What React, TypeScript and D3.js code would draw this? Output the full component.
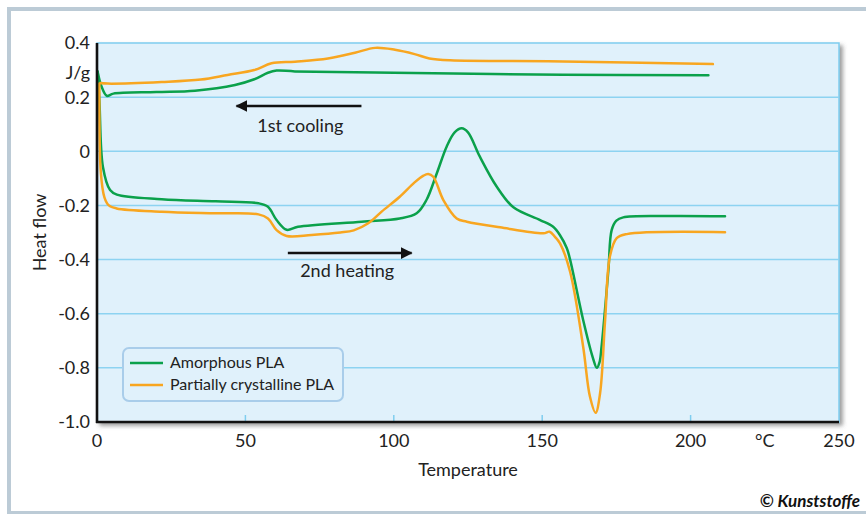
import React from "react";
import * as d3 from "d3";

// DSC curves of PLA: [temperature °C, heat flow J/g]
const coolingAmorphous: [number, number][] = [
  [0.2, 0.295], [1.5, 0.24], [3.3, 0.205], [5.5, 0.213], [20, 0.219], [33, 0.224],
  [46.5, 0.245], [53, 0.266], [57.6, 0.29], [60.5, 0.298], [66.7, 0.295],
  [100, 0.29], [157, 0.283], [206, 0.281],
];
const coolingCrystalline: [number, number][] = [
  [0.8, 0.252], [3.7, 0.25], [21.8, 0.256], [35, 0.265], [44, 0.282], [53, 0.3],
  [58.8, 0.325], [66.7, 0.331], [77.8, 0.343], [86.9, 0.364], [93.7, 0.382],
  [100.4, 0.375], [107, 0.359], [112, 0.343], [119, 0.336], [157, 0.332], [207.5, 0.322],
];
const heatingAmorphous: [number, number][] = [
  [0.2, 0.295], [0.8, 0.19], [2, -0.058], [4.4, -0.143], [6.7, -0.16], [21.8, -0.177],
  [40, -0.185], [54.4, -0.192], [57.6, -0.205], [60.5, -0.254], [63.9, -0.29],
  [67.7, -0.279], [89.2, -0.26], [102, -0.248], [107.7, -0.229], [111, -0.18],
  [114.5, -0.081], [117.8, 0.017], [120.5, 0.07], [122.9, 0.085], [125, 0.07],
  [129, -0.02], [134.7, -0.131], [140.3, -0.207], [149.3, -0.254], [153.7, -0.279],
  [156, -0.31], [158.3, -0.358], [159.4, -0.4], [163.8, -0.623], [167, -0.76],
  [168.4, -0.8], [169.3, -0.78], [170, -0.722], [172.3, -0.439], [173.4, -0.291],
  [175, -0.256], [177.3, -0.244], [192, -0.239], [211.6, -0.24],
];
const heatingCrystalline: [number, number][] = [
  [0.8, 0.25], [1.3, -0.08], [2.5, -0.17], [4, -0.2], [6.6, -0.211], [21.8, -0.223],
  [40, -0.229], [54.4, -0.233], [57.6, -0.248], [60.5, -0.291], [63.9, -0.313],
  [72.3, -0.309], [82, -0.3], [86.5, -0.292], [91.4, -0.266], [96, -0.222],
  [102, -0.168], [107, -0.115], [110, -0.09], [111.6, -0.084], [113.3, -0.094],
  [116.7, -0.18], [121.2, -0.248], [124.6, -0.26], [135.8, -0.281], [150.4, -0.303],
  [152.5, -0.297], [154.3, -0.316], [156, -0.34], [159.4, -0.445], [163.8, -0.722],
  [166.1, -0.907], [168, -0.966], [169.5, -0.894], [171.2, -0.623], [172.8, -0.389],
  [175.1, -0.321], [178.5, -0.306], [211.6, -0.299],
];

const seriesNames = ["Amorphous PLA", "Partially crystalline PLA"];
const seriesColors = ["#0ba14b", "#f8a620"];

const xTicks = [0, 50, 100, 150, 200, 250];
const yTicks = [0.4, 0.2, 0, -0.2, -0.4, -0.6, -0.8, -1.0];
const yTickLabels = ["0.4", "0.2", "0", "-0.2", "-0.4", "-0.6", "-0.8", "-1.0"];

const W = 866;
const H = 514;
const plot = { left: 97, right: 839, top: 43, bottom: 422 };
const font = "Lato, 'Open Sans', sans-serif";

export default function App() {
  const x = d3.scaleLinear().domain([0, 250]).range([plot.left, plot.right]);
  const y = d3.scaleLinear().domain([-1.0, 0.4]).range([plot.bottom, plot.top]);

  const line = d3
    .line<[number, number]>()
    .x((d) => x(d[0]))
    .y((d) => y(d[1]))
    .curve(d3.curveCatmullRom.alpha(0.5));

  const curves = [
    { data: coolingAmorphous, color: seriesColors[0] },
    { data: coolingCrystalline, color: seriesColors[1] },
    { data: heatingAmorphous, color: seriesColors[0] },
    { data: heatingCrystalline, color: seriesColors[1] },
  ];

  return (
    <svg width={W} height={H} style={{ position: "absolute", left: 0, top: 0 }}>
      <defs>
        <filter id="shadow" x="-5%" y="-5%" width="115%" height="115%">
          <feDropShadow dx="3" dy="3" stdDeviation="2" floodColor="#555" floodOpacity="0.6" />
        </filter>
        <marker id="arrow" viewBox="0 0 12 12" refX="11" refY="6" markerWidth="12" markerHeight="12"
          markerUnits="userSpaceOnUse" orient="auto">
          <path d="M0,0 L12,6 L0,12 Z" fill="#111" />
        </marker>
      </defs>

      {/* outer frame */}
      <rect x={0} y={0} width={W} height={H} fill="#fff" />
      <rect x={9} y={9} width={W} height={H - 10} fill="none" stroke="#bccbd6" strokeWidth={4} />

      {/* plot area */}
      <rect x={plot.left} y={plot.top} width={plot.right - plot.left} height={plot.bottom - plot.top}
        fill="#e0f1fb" stroke="#7fcdef" strokeWidth={1.5} filter="url(#shadow)" />

      {yTicks.slice(1, -1).map((t) => (
        <line key={t} x1={plot.left} x2={plot.right} y1={y(t)} y2={y(t)} stroke="#8dd3f1" strokeWidth={1.5} />
      ))}
      {xTicks.slice(1, -1).map((t) => (
        <line key={t} x1={x(t)} x2={x(t)} y1={plot.bottom} y2={plot.bottom - 7} stroke="#7fcdef" strokeWidth={1.5} />
      ))}

      {/* legend */}
      <rect x={123} y={348} width={220} height={53} rx={6} fill="#e0f1fb" stroke="#a9cdea" strokeWidth={2} />
      {seriesNames.map((name, i) => (
        <g key={name}>
          <line x1={130} x2={163} y1={363 + i * 22} y2={363 + i * 22} stroke={seriesColors[i]} strokeWidth={2.5} />
          <text x={170} y={368 + i * 22} fontSize={16} fontFamily={font} fill="#222">{name}</text>
        </g>
      ))}

      {/* curves */}
      {curves.map((c, i) => (
        <path key={i} d={line(c.data) ?? ""} fill="none" stroke={c.color} strokeWidth={2.5}
          strokeLinejoin="round" strokeLinecap="round" />
      ))}

      {/* axes */}
      <line x1={plot.left} x2={plot.left} y1={plot.top} y2={plot.bottom + 1} stroke="#111" strokeWidth={2.6} />
      <line x1={plot.left - 1} x2={plot.right} y1={plot.bottom} y2={plot.bottom} stroke="#111" strokeWidth={2.6} />

      {/* annotations */}
      <line x1={x(89.1)} x2={x(47)} y1={y(0.167)} y2={y(0.167)} stroke="#111" strokeWidth={2.5} markerEnd="url(#arrow)" />
      <text x={x(68.5)} y={y(0.07)} textAnchor="middle" fontSize={18} fontFamily={font} fill="#222">1st cooling</text>
      <line x1={x(64.3)} x2={x(106)} y1={y(-0.376)} y2={y(-0.376)} stroke="#111" strokeWidth={2.5} markerEnd="url(#arrow)" />
      <text x={x(84.3)} y={y(-0.466)} textAnchor="middle" fontSize={18} fontFamily={font} fill="#222">2nd heating</text>

      {/* tick labels */}
      {yTicks.map((t, i) => (
        <text key={t} x={90} y={y(t)} dy="0.36em" textAnchor="end" fontSize={18} fontFamily={font} fill="#222">
          {yTickLabels[i]}
        </text>
      ))}
      <text x={90} y={y(0.29)} dy="0.36em" textAnchor="end" fontSize={18} fontFamily={font} fill="#222">J/g</text>
      {xTicks.map((t) => (
        <text key={t} x={x(t)} y={447} textAnchor="middle" fontSize={18} fontFamily={font} fill="#222">{t}</text>
      ))}
      <text x={x(225)} y={447} textAnchor="middle" fontSize={18} fontFamily={font} fill="#222">°C</text>

      {/* axis titles */}
      <text x={x(125)} y={476} textAnchor="middle" fontSize={18} fontFamily={font} fill="#222">Temperature</text>
      <text transform={`translate(46,${y(-0.3)}) rotate(-90)`} textAnchor="middle" fontSize={18}
        fontFamily={font} fill="#222">Heat flow</text>

      <text x={860} y={507} textAnchor="end" fontSize={17} fontWeight="bold" fontStyle="italic"
        fontFamily={font} fill="#111">© Kunststoffe</text>
    </svg>
  );
}
